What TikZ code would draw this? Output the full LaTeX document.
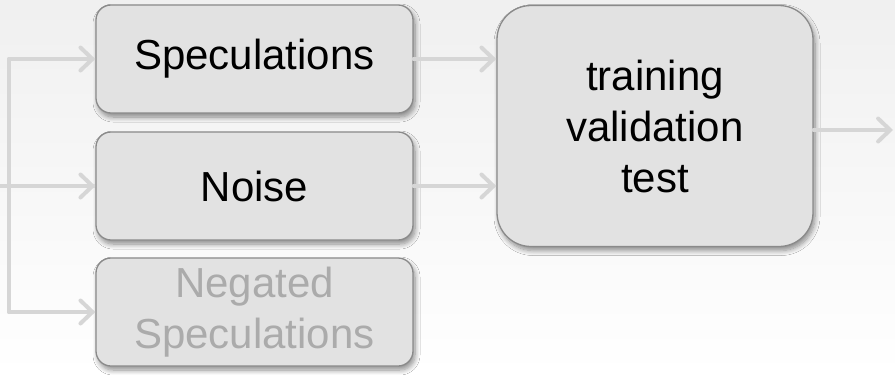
\documentclass[tikz,border=0pt]{standalone}
\usepackage{fontspec}
\setmainfont{Liberation Sans}
\usetikzlibrary{arrows.meta,shadows.blur}
\definecolor{linegray}{HTML}{D6D6D6}
\definecolor{boxfill}{HTML}{E2E2E2}
\definecolor{boxline}{HTML}{8A8A8A}
\definecolor{fadetext}{HTML}{ABABAB}
\tikzset{
  box/.style={draw=boxline, line width=1.3pt, fill=boxfill, rounded corners=15pt,
    minimum width=317pt, minimum height=108pt, inner sep=0pt, align=center,
    font=\fontsize{42}{51}\selectfont,
    blur shadow={shadow xshift=2pt, shadow yshift=-4pt, shadow blur steps=8, shadow blur radius=5pt, shadow opacity=45}},
  bigbox/.style={box, rounded corners=34pt, minimum width=316pt, minimum height=241pt},
  conn/.style={draw=linegray, line width=4pt, line cap=round,
    -{Straight Barb[length=12pt, width=23pt, line cap=round]}},
  plain/.style={draw=linegray, line width=4pt}
}
\begin{document}
\begin{tikzpicture}[x=1pt, y=-1pt]
\shade[top color=black!6, bottom color=white] (0,0) rectangle (895,375);
\useasboundingbox (0,0) rectangle (895,375);

\node[box] (spec) at (254.5,59) {Speculations};
\node[box] (noise) at (254.5,186) {Noise};
\node[box, text=fadetext] (neg) at (254.5,312) {Negated\\Speculations};
\node[bigbox] (train) at (655,126) {training\\validation\\test};

\coordinate (in) at (0,186);
\coordinate (j) at (9,186);
\coordinate (jt) at (9,59);
\coordinate (jb) at (9,312);
\coordinate (out) at (893,130);

\draw[plain] (in) -- (noise.west);
\draw[plain, line cap=round] (jt) -- (jb);
\draw[conn] (jt) -- (spec.west);
\draw[conn] (j) -- (noise.west);
\draw[conn] (jb) -- (neg.west);
\draw[conn] (spec.east) -- (spec.east -| train.west);
\draw[conn] (noise.east) -- (noise.east -| train.west);
\draw[conn] (train.east |- out) -- (out);
\end{tikzpicture}
\end{document}
